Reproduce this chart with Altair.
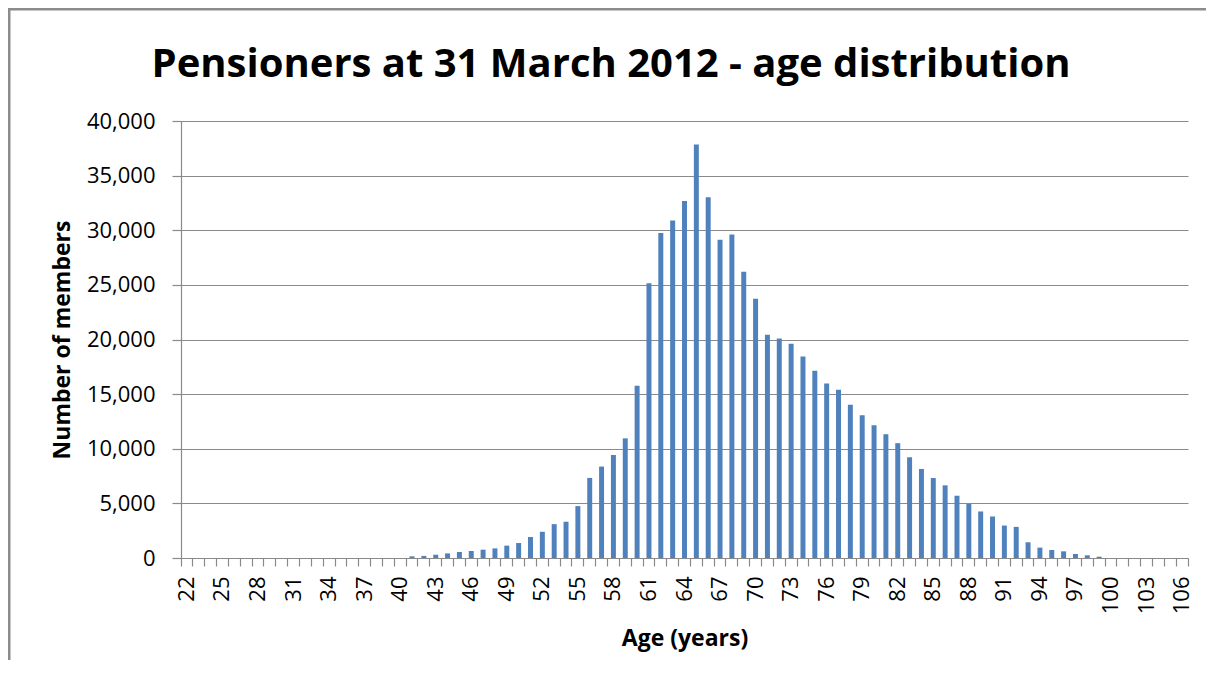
import altair as alt
import pandas as pd

# Categories (age in years)
ages = list(range(22, 107))

# Number of members per age
members = [
    0, 0, 0, 0, 0, 0, 0, 0, 0, 0,            # 22-31
    0, 0, 0, 0, 0, 0, 0, 0, 0,               # 32-40
    150, 190, 300, 420, 550, 640, 760, 880, 1130, 1370,   # 41-50
    1920, 2400, 3100, 3320, 4750, 7330, 8370, 9430, 10950, 15760,  # 51-60
    25160, 29740, 30900, 32670, 37860, 33030, 29130, 29610, 26200, 23720,  # 61-70
    20430, 20090, 19600, 18440, 17130, 15970, 15400, 14030, 13070, 12160,  # 71-80
    11330, 10510, 9220, 8150, 7320, 6650, 5700, 4960, 4260, 3800,  # 81-90
    2970, 2850, 1440, 950, 735, 610, 370, 245, 120,  # 91-99
    0, 0, 0, 0, 0, 0, 0,                      # 100-106
]

y_ticks = [0, 5000, 10000, 15000, 20000, 25000, 30000, 35000, 40000]

title_text = "Pensioners at 31 March 2012 - age distribution"
x_title = "Age (years)"
y_title = "Number of members"

df = pd.DataFrame({"age": ages, "members": members})

W, H = 1007, 437
PAD = {"left": 173, "top": 113, "right": 18, "bottom": 102}
GRID = "#8a8a8a"
FONT = "Open Sans"

bars = alt.Chart(df).mark_bar(color="#4F81BD", width=alt.RelativeBandSize(0.42)).encode(
    x=alt.X(
        "age:O",
        title=x_title,
        scale=alt.Scale(paddingInner=0, paddingOuter=0),
        axis=alt.Axis(
            bandPosition=1,
            tickExtra=True,
            labelAngle=270,
            labelOverlap=False,
            labelExpr="(datum.value - 22) % 3 == 0 ? datum.label : ''",
            tickSize=8,
            labelPadding=10,
            titlePadding=14,
            grid=False,
        ),
    ),
    y=alt.Y(
        "members:Q",
        title=y_title,
        scale=alt.Scale(domain=[0, 40000], nice=False),
        axis=alt.Axis(
            values=y_ticks,
            labelExpr="format(datum.value, ',')",
            tickSize=9,
            labelPadding=17,
            titlePadding=12,
            grid=True,
        ),
    ),
)

single = alt.Data(values=[{"k": 0}])
left_border = alt.Chart(single).mark_rect(color="#8c8c8c").encode(
    x=alt.value(-PAD["left"]),
    x2=alt.value(-PAD["left"] + 2.5),
    y=alt.value(-PAD["top"]),
    y2=alt.value(H + PAD["bottom"]),
)
top_border = alt.Chart(single).mark_rect(color="#8c8c8c").encode(
    x=alt.value(-PAD["left"]),
    x2=alt.value(W + PAD["right"]),
    y=alt.value(-PAD["top"]),
    y2=alt.value(-PAD["top"] + 2.5),
)
title_mark = alt.Chart(single).mark_text(
    font=FONT, fontSize=40, fontWeight="bold", color="#000000",
    align="center", baseline="alphabetic",
).encode(
    x=alt.value(430),
    y=alt.value(-44),
    text=alt.value(title_text),
)

chart = alt.layer(bars, left_border, top_border, title_mark).properties(
    width=W,
    height=H,
    padding=PAD,
    autosize=alt.AutoSizeParams(type="none"),
).configure(
    background="white",
).configure_view(
    stroke=None,
).configure_axis(
    labelFont=FONT,
    labelFontSize=22,
    labelColor="#000000",
    titleFont=FONT,
    titleFontSize=23,
    titleFontWeight="bold",
    titleColor="#000000",
    domainColor=GRID,
    domainWidth=1.2,
    tickColor=GRID,
    tickWidth=1.2,
    gridColor=GRID,
    gridWidth=1.2,
)

chart.save("out.html", embed_options={"renderer": "svg", "actions": False})
